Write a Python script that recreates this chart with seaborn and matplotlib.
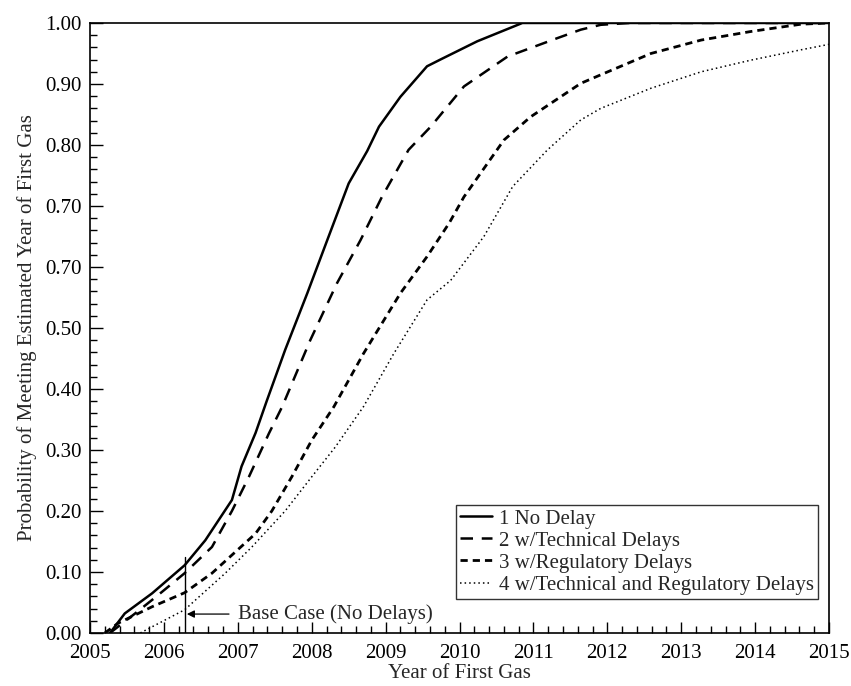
import matplotlib
matplotlib.use("Agg")
import matplotlib.pyplot as plt
import seaborn as sns
from matplotlib.ticker import MultipleLocator, FixedLocator, FixedFormatter

# -------------------------------
# data
# -------------------------------
x_no_delay = [2005.27, 2005.47, 2005.84, 2006.28, 2006.56, 2006.92, 2007.05, 2007.24, 2007.39,
              2007.64, 2007.94, 2008.21, 2008.50, 2008.75, 2008.91, 2009.20, 2009.56, 2009.74,
              2010.24, 2010.85, 2015.0]
y_no_delay = [0.0, 0.032, 0.065, 0.111, 0.152, 0.218, 0.273, 0.328, 0.38,
              0.464, 0.557, 0.644, 0.737, 0.79, 0.83, 0.879, 0.929, 0.94,
              0.97, 1.0, 1.0]

x_tech = [2005.27, 2005.61, 2005.9, 2006.28, 2006.65, 2006.92, 2007.15, 2007.42, 2007.6,
          2007.98, 2008.34, 2008.66, 2008.95, 2009.31, 2009.61, 2010.06, 2010.65, 2011.32,
          2011.64, 2011.91, 2012.3, 2015.0]
y_tech = [0.0, 0.032, 0.06, 0.098, 0.141, 0.2, 0.256, 0.327, 0.371,
          0.48, 0.573, 0.644, 0.715, 0.792, 0.83, 0.896, 0.945, 0.975,
          0.989, 0.997, 1.0, 1.0]

x_reg = [2005.2, 2005.38, 2005.84, 2006.28, 2006.65, 2007.24, 2007.46, 2007.73, 2008.0,
         2008.3, 2008.7, 2009.2, 2009.56, 2009.86, 2010.06, 2010.6, 2010.96, 2011.64,
         2011.91, 2012.59, 2013.27, 2013.94, 2014.62, 2015.0]
y_reg = [0.0, 0.016, 0.043, 0.066, 0.098, 0.163, 0.2, 0.256, 0.316,
         0.371, 0.458, 0.557, 0.617, 0.672, 0.715, 0.808, 0.846, 0.901,
         0.915, 0.95, 0.972, 0.986, 0.998, 1.0]

x_both = [2005.68, 2006.28, 2006.83, 2007.19, 2007.64, 2008.0, 2008.32, 2008.7, 2009.11,
          2009.56, 2009.88, 2010.33, 2010.72, 2011.19, 2011.64, 2011.91, 2012.59, 2013.27,
          2013.94, 2014.62, 2015.0]
y_both = [0.0, 0.038, 0.098, 0.141, 0.2, 0.256, 0.305, 0.371, 0.458,
          0.546, 0.578, 0.65, 0.732, 0.792, 0.841, 0.86, 0.893, 0.92,
          0.939, 0.956, 0.965]

series_labels = ["1 No Delay", "2 w/Technical Delays", "3 w/Regulatory Delays",
                 "4 w/Technical and Regulatory Delays"]

x_ticks = list(range(2005, 2016))
y_ticks = [0.0, 0.1, 0.2, 0.3, 0.4, 0.5, 0.6, 0.7, 0.8, 0.9, 1.0]
# the original figure labels the 0.6 tick as "0.70"
y_tick_labels = ["0.00", "0.10", "0.20", "0.30", "0.40", "0.50", "0.70", "0.70", "0.80", "0.90", "1.00"]

base_case_year = 2006.28
base_case_top = 0.125
base_case_arrow_y = 0.031

# -------------------------------
# style
# -------------------------------
FS = 15
sns.set_theme(style="white")
plt.rcParams["font.family"] = ["Liberation Serif", "DejaVu Serif"]
plt.rcParams["font.size"] = FS

fig = plt.figure(figsize=(8.51, 6.86), dpi=100)
ax = fig.add_axes([0.1058, 0.0773, 0.8684, 0.8892])

sns.lineplot(x=x_no_delay, y=y_no_delay, ax=ax, color="black", lw=1.8,
             linestyle="-", label=series_labels[0], sort=False)
sns.lineplot(x=x_tech, y=y_tech, ax=ax, color="black", lw=1.8,
             linestyle=(0, (5, 3.5)), label=series_labels[1], sort=False)
sns.lineplot(x=x_reg, y=y_reg, ax=ax, color="black", lw=2.0,
             linestyle=(0, (2.6, 1.8)), label=series_labels[2], sort=False)
sns.lineplot(x=x_both, y=y_both, ax=ax, color="black", lw=1.1,
             linestyle=(0, (1, 2)), label=series_labels[3], sort=False)

# base case marker
ax.plot([base_case_year, base_case_year], [0, base_case_top], color="black", lw=1)
ax.annotate("Base Case (No Delays)", xy=(base_case_year + 0.03, base_case_arrow_y),
            xytext=(base_case_year + 0.72, base_case_arrow_y), va="center", ha="left",
            fontsize=FS,
            arrowprops=dict(arrowstyle="-|>", color="black", lw=0.9,
                            shrinkA=4, shrinkB=0, mutation_scale=11))

ax.set_xlim(2005, 2015)
ax.set_ylim(0, 1)
ax.xaxis.set_major_locator(FixedLocator(x_ticks))
ax.xaxis.set_major_formatter(FixedFormatter([str(t) for t in x_ticks]))
ax.xaxis.set_minor_locator(MultipleLocator(0.2))
ax.yaxis.set_major_locator(FixedLocator(y_ticks))
ax.yaxis.set_major_formatter(FixedFormatter(y_tick_labels))
ax.yaxis.set_minor_locator(MultipleLocator(0.02))
ax.tick_params(which="both", direction="in", bottom=True, left=True, top=False, right=False,
               colors="black", labelsize=FS, width=1)
ax.tick_params(axis="y", which="major", length=9, pad=6)
ax.tick_params(axis="x", which="major", length=8, pad=8)
ax.tick_params(which="minor", length=5)

for s in ax.spines.values():
    s.set_color("black")
    s.set_linewidth(1.2)

ax.set_xlabel("Year of First Gas", fontsize=FS, labelpad=1)
ax.set_ylabel("Probability of Meeting Estimated Year of First Gas", fontsize=FS, labelpad=6)

leg = ax.legend(loc="upper right", bbox_to_anchor=(0.985, 0.21), borderaxespad=0,
                frameon=True, fancybox=False, edgecolor="black", fontsize=FS,
                handlelength=1.5, handletextpad=0.35, labelspacing=0.12, borderpad=0.2)
leg.get_frame().set_linewidth(1.0)

fig.savefig("out.png", dpi=100)
